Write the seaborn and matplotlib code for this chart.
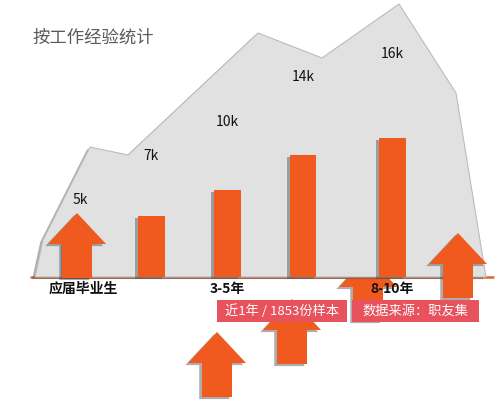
import matplotlib
matplotlib.use("Agg")
import matplotlib.pyplot as plt
from matplotlib import patheffects as pe
from matplotlib.transforms import Affine2D
from matplotlib.patches import Polygon, Rectangle
import pandas as pd
import seaborn as sns

# data: average salary by work experience (k / month)
groups = ["应届毕业生", "1-3年", "3-5年", "5-8年", "8-10年"]
salary = [5, 7, 10, 14, 16]
shown_ticks = ["应届毕业生", "3-5年", "8-10年"]
title = "按工作经验统计"
notes = ["近1年 / 1853份样本", "数据来源：职友集"]

# layout (pixels in the 500x409 picture)
bar_px = [77, 151.5, 227.5, 303, 392.5]
base_px = 277
px_per_k = 8.69
mountain = [(35, 277), (43, 240), (90, 147), (128, 155), (258, 33),
            (322, 58), (399, 4), (456, 93), (486, 277)]
arrow_tips = [(77, 213), (217, 332), (292, 299), (368, 256), (458, 233)]
note_boxes = [(217, 300, 130, 22), (352, 300, 127, 22)]

orange = "#f05a1e"
red_box = "#e8525c"

sns.set_style("white")
plt.rcParams["font.family"] = ["Noto Sans CJK SC", "DejaVu Sans"]

W, H = 500, 409
fig = plt.figure(figsize=(W / 100, H / 100), dpi=100)
ax = fig.add_axes([0, 0, 1, 1])
# pixel transform for the decorations (origin top-left)
px = Affine2D().scale(1 / W, -1 / H).translate(0, 1) + fig.transFigure

shadow = [pe.SimplePatchShadow(offset=(-2, -1.5), shadow_rgbFace="#4a4a4a", alpha=0.45),
          pe.Normal()]

# grey mountain background
ax.add_patch(Polygon(mountain, closed=True, transform=px, facecolor="#e1e1e1",
                     edgecolor="#bcbcbc", lw=0.8, zorder=0.5))

df = pd.DataFrame({"group": groups, "salary": salary, "pos": bar_px})
sns.barplot(data=df, x="pos", y="salary", native_scale=True, orient="x",
            width=27 / 75.5, color=orange, saturation=1, errorbar=None, ax=ax,
            linewidth=0, edgecolor="none")
for bar in ax.patches:
    bar.set_path_effects(shadow)
    bar.set_zorder(3)

ax.set_xlim(0, W)
ax.set_ylim((base_px - H) / px_per_k, base_px / px_per_k)
ax.axis("off")

# baseline
ax.plot([31, 493], [0, 0], color="#e5642c", lw=1.8, zorder=2)


def arrow(tx, ty, z):
    pts = [(tx, ty), (tx + 29, ty + 31), (tx + 15, ty + 31), (tx + 15, ty + 65),
           (tx - 15, ty + 65), (tx - 15, ty + 31), (tx - 29, ty + 31)]
    p = Polygon(pts, closed=True, transform=px, facecolor=orange,
                edgecolor="none", zorder=z)
    p.set_path_effects(shadow)
    ax.add_patch(p)


for i, (tx, ty) in enumerate(arrow_tips):
    arrow(tx, ty, 2.5 if i == 3 else 4)

# value labels
for i, (x, v) in enumerate(zip(bar_px, salary)):
    if i == 0:
        ax.text(x + 3, 200.5, f"{v}k", transform=px, ha="center", va="center",
                fontsize=10, color="#111111", zorder=5)
    else:
        ax.text(x, 4.79 + 1.304 * v, f"{v}k", ha="center", va="center",
                fontsize=10, color="#111111", zorder=5)

# category labels (every other group)
for g, x in zip(groups, bar_px):
    if g in shown_ticks:
        dx = 6 if g == groups[0] else 0
        ax.text(x + dx, 289, g, transform=px, ha="center", va="center",
                fontsize=10, fontweight="bold", color="#111111", zorder=7)

# note boxes
for (bx, by, bw, bh), t in zip(note_boxes, notes):
    ax.add_patch(Rectangle((bx, by), bw, bh, transform=px, facecolor=red_box,
                           edgecolor="none", zorder=6))
    ax.text(bx + bw / 2, by + bh / 2, t, transform=px, ha="center", va="center",
            fontsize=9.5, color="white", zorder=6.5)

# title
ax.text(32, 38, title, transform=px, ha="left", va="center", fontsize=12.5,
        color="#5a5a5a", zorder=5)

fig.savefig("out.png", dpi=100)
